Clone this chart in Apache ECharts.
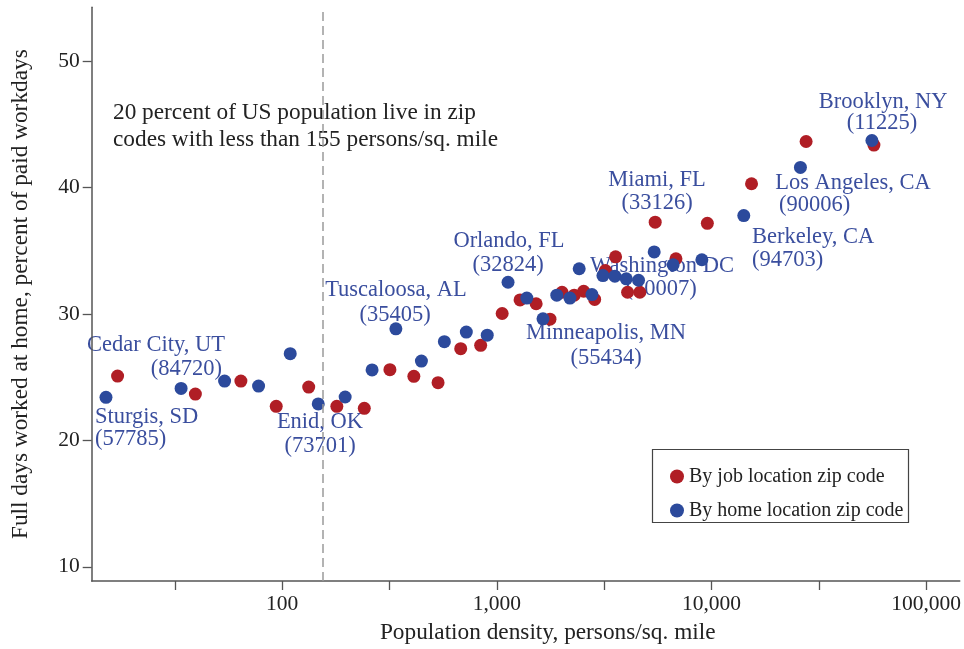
<!DOCTYPE html>
<html>
<head>
<meta charset="utf-8">
<script src="https://cdn.jsdelivr.net/npm/echarts@6/dist/echarts.min.js"></script>
<style>html,body{margin:0;padding:0;background:#fff;}#c{width:964px;height:649px;}</style>
</head>
<body>
<div id="c"></div>
<script>
// Population density (persons/sq. mile) and full days worked at home (% of paid workdays)
const densityJob = [17.1, 39.4, 64.2, 93.8, 132.9, 179.7, 241.3, 317.6, 410.6, 532.4, 678.8, 840.8, 1059, 1283, 1525, 1769, 2013, 2294, 2539, 2857, 3203, 3576, 4067, 4638, 5469, 6833, 9570, 15375, 27610, 57150];
const wfhJob = [25.08, 23.66, 24.69, 22.69, 24.21, 22.69, 22.53, 25.59, 25.06, 24.56, 27.25, 27.51, 30.03, 31.10, 30.80, 29.58, 31.71, 31.48, 31.79, 31.14, 33.43, 34.51, 31.71, 31.71, 37.25, 34.36, 37.16, 40.29, 43.63, 43.35];
const densityHome = [15.1, 33.8, 53.9, 77.6, 109.0, 147.2, 196.5, 262.3, 338.6, 445.3, 569.6, 720.9, 902.3, 1128, 1380, 1641, 1903, 2191, 2420, 2775, 3122, 3549, 4011, 4574, 5411, 6631, 9023, 14146, 25980, 55940];
const wfhHome = [23.40, 24.11, 24.69, 24.29, 26.85, 22.88, 23.43, 25.57, 28.82, 26.27, 27.80, 28.56, 28.32, 32.50, 31.25, 29.61, 31.48, 31.25, 33.57, 31.53, 33.03, 32.98, 32.77, 32.66, 34.90, 33.88, 34.28, 37.77, 41.58, 43.71];
const yTicks = [10, 20, 30, 40, 50];
const xTickExponents = [1.5, 2, 2.5, 3, 3.5, 4, 4.5, 5];
const xLabelExponents = [2, 3, 4, 5];
const thresholdDensity = 155;
const seriesNames = ['By job location zip code', 'By home location zip code'];
const annotationLines = ['20 percent of US population live in zip', 'codes with less than 155 persons/sq. mile'];
const placeLabels = [
  ['Sturgis, SD', '(57785)'], ['Cedar City, UT', '(84720)'], ['Enid, OK', '(73701)'],
  ['Tuscaloosa, AL', '(35405)'], ['Orlando, FL', '(32824)'], ['Minneapolis, MN', '(55434)'],
  ['Washington DC', '(20007)'], ['Miami, FL', '(33126)'], ['Brooklyn, NY', '(11225)'],
  ['Los Angeles, CA', '(90006)'], ['Berkeley, CA', '(94703)']
];

const FONT = "'Liberation Serif', 'DejaVu Serif', serif";
const RED = '#b01e25';
const BLUE = '#2c4a9c';
const LBLUE = '#3a4e9e';
const AX = '#555';
const xMinExp = 1.1124, xMaxExp = 5.157;

// pixel layout of the annotation texts
const labelPlacement = [
  {x: [95, 95], y: [417, 439], align: ['left', 'left']},
  {x: [156, 222], y: [345, 369], align: ['center', 'right']},
  {x: [320, 320], y: [422, 446], align: ['center', 'center']},
  {x: [396, 395], y: [290, 315], align: ['center', 'center']},
  {x: [509, 508], y: [241, 265], align: ['center', 'center']},
  {x: [606, 606], y: [333, 358], align: ['center', 'center']},
  {x: [662, 661], y: [266, 289], align: ['center', 'center']},
  {x: [657, 657], y: [180, 203], align: ['center', 'center']},
  {x: [883, 882], y: [102, 123], align: ['center', 'center']},
  {x: [853, 779], y: [183, 205], align: ['center', 'left']},
  {x: [752, 752], y: [237, 260], align: ['left', 'left']}
];

const graphics = [];
placeLabels.forEach((lines, i) => {
  const p = labelPlacement[i];
  lines.forEach((t, j) => {
    graphics.push({
      type: 'text', z: 0,
      x: p.x[j], y: p.y[j],
      style: {text: t, fill: LBLUE, font: '22.5px ' + FONT,
        textAlign: p.align[j], textVerticalAlign: 'middle'}
    });
  });
});
annotationLines.forEach((t, j) => {
  graphics.push({type: 'text', z: 0, x: 113, y: 113 + j * 27,
    style: {text: t, fill: '#222', font: '23.3px ' + FONT, textAlign: 'left', textVerticalAlign: 'middle'}});
});
graphics.push({type: 'rect', z: 0, shape: {x: 652.5, y: 449.5, width: 256, height: 73},
  style: {fill: '#fff', stroke: '#444', lineWidth: 1.2}});

const chart = echarts.init(document.getElementById('c'), null, {renderer: 'canvas'});
chart.setOption({
  animation: false,
  backgroundColor: '#fff',
  textStyle: {fontFamily: FONT},
  grid: {left: 91.7, right: 2, top: 7.3, bottom: 67},
  legend: {
    orient: 'vertical', left: 665, top: 461, itemGap: 13, icon: 'circle',
    itemWidth: 14, itemHeight: 14, itemStyle: {borderWidth: 0},
    textStyle: {fontFamily: FONT, fontSize: 20, color: '#222', lineHeight: 21},
    data: seriesNames, selectedMode: false, z: 5
  },
  graphic: graphics,
  xAxis: [
    {type: 'log', logBase: 10, min: Math.pow(10, xMinExp), max: Math.pow(10, xMaxExp), show: false},
    {type: 'value', min: xMinExp, max: xMaxExp, position: 'bottom',
      name: 'Population density, persons/sq. mile', nameLocation: 'middle', nameGap: 40,
      nameTextStyle: {fontFamily: FONT, fontSize: 23.3, color: '#222', padding: [0, 0, 0, 44]},
      axisLine: {show: true, onZero: false, lineStyle: {color: AX, width: 1.5}},
      axisTick: {show: true, length: 9, customValues: xTickExponents, lineStyle: {color: AX, width: 1.3}},
      axisLabel: {show: true, margin: 12, customValues: xLabelExponents, fontFamily: FONT, fontSize: 21.5, color: '#222',
        formatter: v => Math.round(Math.pow(10, v)).toLocaleString('en-US')},
      splitLine: {show: false}}
  ],
  yAxis: {
    type: 'value', min: 8.88, max: 54.24,
    name: 'Full days worked at home, percent of paid workdays', nameLocation: 'middle', nameGap: 59,
    nameTextStyle: {fontFamily: FONT, fontSize: 23.3, color: '#222'},
    axisLine: {show: true, onZero: false, lineStyle: {color: AX, width: 1.5}},
    axisTick: {show: true, length: 9, customValues: yTicks, lineStyle: {color: AX, width: 1.3}},
    axisLabel: {show: true, margin: 12, customValues: yTicks, fontFamily: FONT, fontSize: 21.5, color: '#222'},
    splitLine: {show: false}
  },
  series: [
    {name: seriesNames[0], type: 'scatter', xAxisIndex: 0, symbolSize: 13, z: 3,
      itemStyle: {color: RED, opacity: 1},
      data: densityJob.map((d, i) => [d, wfhJob[i]]),
      markLine: {silent: true, symbol: 'none', label: {show: false},
        lineStyle: {color: '#9a9a9a', type: [9, 5], width: 1.5},
        data: [{xAxis: thresholdDensity}]}},
    {name: seriesNames[1], type: 'scatter', xAxisIndex: 0, symbolSize: 13, z: 4,
      itemStyle: {color: BLUE, opacity: 1},
      data: densityHome.map((d, i) => [d, wfhHome[i]])}
  ]
});
</script>
</body>
</html>
